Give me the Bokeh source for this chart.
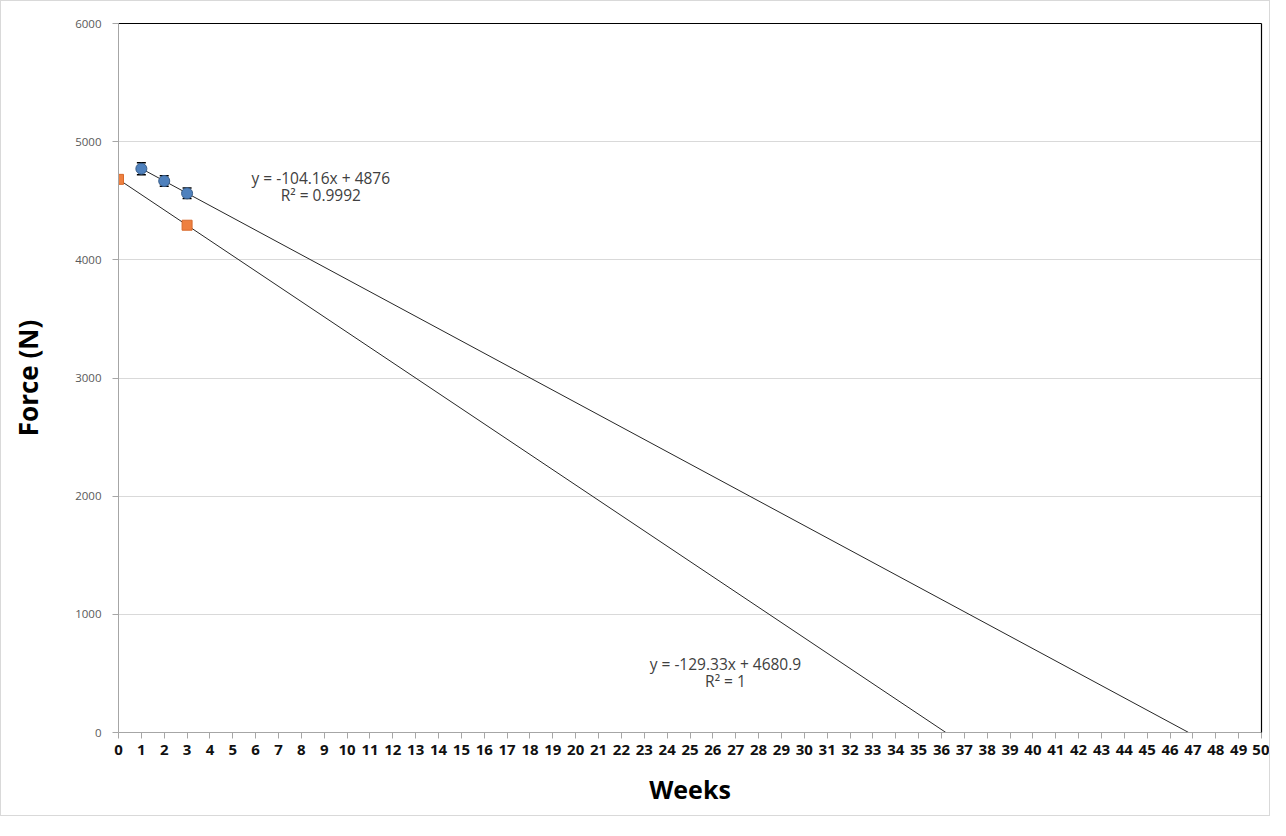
from bokeh.plotting import figure
from bokeh.models import (ColumnDataSource, Whisker, LinearAxis, FixedTicker, Range1d, Label, TeeHead)
from bokeh.embed import file_html
from bokeh.resources import INLINE

# ---- data ----
weeks_a = [1, 2, 3]
force_a = [4771, 4667, 4563]
err_a = [50, 45, 45]
weeks_b = [0, 3]
force_b = [4681, 4293]

fit_a = (-104.16, 4876.0)
fit_b = (-129.33, 4680.9)
eq_a = ["y = -104.16x + 4876", "R² = 0.9992"]
eq_b = ["y = -129.33x + 4680.9", "R² = 1"]

x_ticks = list(range(0, 51))
y_ticks = [0, 1000, 2000, 3000, 4000, 5000, 6000]

p = figure(width=1270, height=816, output_backend="svg", toolbar_location=None,
           x_range=Range1d(0, 50), y_range=Range1d(0, 6000),
           min_border_left=117, min_border_right=10, min_border_top=22, min_border_bottom=85)
p.styles = {"border": "1px solid #d9d9d9"}
p.outline_line_color = None
p.background_fill_color = "white"

# axes
p.xaxis.ticker = FixedTicker(ticks=x_ticks)
p.yaxis.ticker = FixedTicker(ticks=y_ticks)
p.xgrid.grid_line_color = None
p.ygrid.grid_line_color = "#d9d9d9"
p.ygrid.grid_line_width = 1

for ax in (p.xaxis[0], p.yaxis[0]):
    ax.axis_line_color = "#a6a6a6"
    ax.major_tick_line_color = "#a6a6a6"
    ax.major_tick_out = 6
    ax.major_tick_in = 0
    ax.minor_tick_line_color = None

p.xaxis.major_label_text_font = "Open Sans"
p.xaxis.major_label_text_font_size = "15px"
p.xaxis.major_label_text_font_style = "bold"
p.xaxis.major_label_text_color = "#111111"
p.xaxis.major_label_standoff = 6
p.xaxis.axis_label = "Weeks"
p.xaxis.axis_label_text_font = "Open Sans"
p.xaxis.axis_label_text_font_style = "bold"
p.xaxis.axis_label_text_font_size = "25px"
p.xaxis.axis_label_text_color = "black"
p.xaxis.axis_label_standoff = 14

p.yaxis.major_label_text_font = "Open Sans"
p.yaxis.major_label_text_font_size = "11.5px"
p.yaxis.major_label_text_color = "#595959"
p.yaxis.major_label_standoff = 11
p.yaxis.axis_label = "Force (N)"
p.yaxis.axis_label_text_font = "Open Sans"
p.yaxis.axis_label_text_font_style = "bold"
p.yaxis.axis_label_text_font_size = "26px"
p.yaxis.axis_label_text_color = "black"
p.yaxis.axis_label_standoff = 26

# black top and right borders
for side in ("above", "right"):
    ax = LinearAxis(ticker=FixedTicker(ticks=[]), axis_line_color="black", axis_line_width=1.2,
                    major_tick_line_color=None, minor_tick_line_color=None,
                    major_label_text_font_size="0px")
    p.add_layout(ax, side)

# trendlines: from first data x to y = 0
for xs, (m, b) in ((weeks_a, fit_a), (weeks_b, fit_b)):
    x0 = min(xs)
    x1 = -b / m
    p.line([x0, x1], [m * x0 + b, m * x1 + b], line_color="#262626", line_width=1)

# error bars
src_a = ColumnDataSource(dict(x=weeks_a, y=force_a,
                              lo=[f - e for f, e in zip(force_a, err_a)],
                              hi=[f + e for f, e in zip(force_a, err_a)]))
w = Whisker(source=src_a, base="x", lower="lo", upper="hi", line_color="black", line_width=1.5,
            upper_head=TeeHead(size=9, line_color="black", line_width=1.5),
            lower_head=TeeHead(size=9, line_color="black", line_width=1.5))
p.add_layout(w)

p.scatter("x", "y", source=src_a, marker="circle", size=11, fill_color="#4F81BD", line_color="#385D8A")
p.scatter(weeks_b, force_b, marker="square", size=10, fill_color="#EE8040", line_color="#D86A2C")

# equation labels
for (xp, yp), lines in (((8.85, 4690), eq_a), ((26.55, 583), eq_b)):
    for i, t in enumerate(lines):
        p.add_layout(Label(x=xp, y=yp, x_offset=0, y_offset=-17 * i, text=t,
                           text_font="Open Sans", text_font_size="15.5px", text_color="#404040",
                           text_align="center", text_baseline="middle"))

open("out.html", "w").write(file_html(p, INLINE))
